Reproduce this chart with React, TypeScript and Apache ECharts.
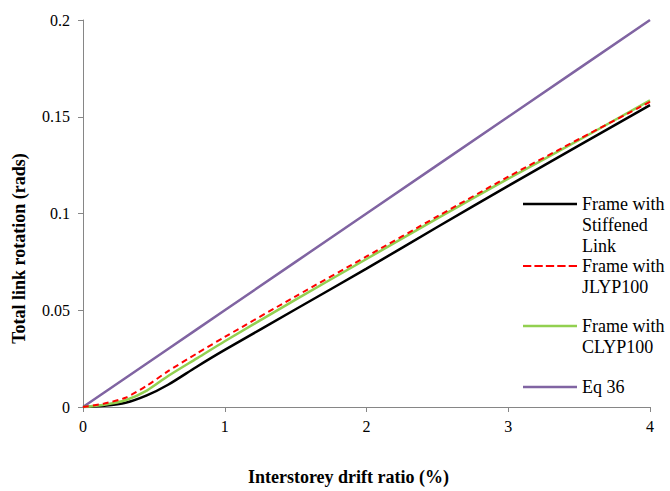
import React, { useEffect, useRef } from "react";
import * as echarts from "echarts";

const driftRatio = [0, 0.15, 0.3, 0.45, 0.6, 0.8, 1, 1.5, 2, 2.5, 3, 3.5, 4];
const stiffened = [0, 0.0007, 0.0022, 0.006, 0.0115, 0.0207, 0.0295, 0.0505, 0.0715, 0.093, 0.1143, 0.1352, 0.156];
const jlyp100 = [0, 0.0018, 0.0048, 0.011, 0.0185, 0.0275, 0.0362, 0.0572, 0.0778, 0.0985, 0.119, 0.1385, 0.1577];
const clyp100 = [0, 0.0012, 0.0035, 0.0085, 0.016, 0.025, 0.034, 0.0555, 0.0765, 0.0975, 0.118, 0.138, 0.1585];
const eq36 = [0, 0.0075, 0.015, 0.0225, 0.03, 0.04, 0.05, 0.075, 0.1, 0.125, 0.15, 0.175, 0.2];

const seriesNames = ["Frame with Stiffened Link", "Frame with JLYP100", "Frame with CLYP100", "Eq 36"];
const legendLabels = [
  ["Frame with", "Stiffened", "Link"],
  ["Frame with", "JLYP100"],
  ["Frame with", "CLYP100"],
  ["Eq 36"],
];

const FONT = "Liberation Serif";

export default function App() {
  const ref = useRef<HTMLDivElement>(null);
  useEffect(() => {
    if (!ref.current) return;
    const chart = echarts.init(ref.current, null, { renderer: "svg" });
    const pair = (ys: number[]) => driftRatio.map((x, i) => [x, ys[i]]);
    const lineH = 21;
    const legendItem = (i: number, iconY: number) => {
      const lines = legendLabels[i];
      const n = lines.length;
      const padded = Array(n - 1).fill("").concat(lines).join("\n");
      return {
        data: [seriesNames[i]],
        left: 523,
        top: iconY - ((2 * n - 1) * lineH) / 2,
        padding: 0,
        orient: "vertical",
        itemWidth: 54,
        itemHeight: 12,
        itemGap: 0,
        formatter: () => padded,
        icon: "path://M0,5 L54,5 L54,7.5 L0,7.5 Z",
        textStyle: {
          fontFamily: FONT,
          fontSize: 18,
          color: "#000",
          lineHeight: lineH,
        },
      };
    };
    chart.setOption({
      animation: false,
      grid: { left: 83, right: 20, top: 20, bottom: 80, containLabel: false },
      legend: [
        legendItem(0, 204),
        {
          ...legendItem(1, 266),
          icon: "path://M0,5 L8,5 L8,7 L0,7 Z M11,5 L19,5 L19,7 L11,7 Z M22,5 L30,5 L30,7 L22,7 Z M33,5 L41,5 L41,7 L33,7 Z M44,5 L52,5 L52,7 L44,7 Z",
        },
        legendItem(2, 326),
        legendItem(3, 387),
      ],
      xAxis: {
        type: "value",
        min: 0,
        max: 4,
        interval: 1,
        name: "Interstorey drift ratio (%)",
        nameLocation: "middle",
        nameGap: 61,
        nameTextStyle: {
          fontFamily: FONT,
          fontSize: 18,
          fontWeight: "bold",
          color: "#000",
          padding: [0, 36, 0, 0],
        },
        axisLine: { show: true, lineStyle: { color: "#868686", width: 1 } },
        axisTick: { show: true, length: 5, lineStyle: { color: "#868686" } },
        axisLabel: { fontFamily: FONT, fontSize: 16, color: "#000", margin: 11 },
        splitLine: { show: false },
      },
      yAxis: {
        type: "value",
        min: 0,
        max: 0.2,
        interval: 0.05,
        name: "Total link rotation (rads)",
        nameLocation: "middle",
        nameGap: 55,
        nameTextStyle: {
          fontFamily: FONT,
          fontSize: 18,
          fontWeight: "bold",
          color: "#000",
          padding: [0, 70, 0, 0],
        },
        axisLine: { show: true, lineStyle: { color: "#868686", width: 1 } },
        axisTick: { show: true, length: 5, lineStyle: { color: "#868686" } },
        axisLabel: { fontFamily: FONT, fontSize: 16, color: "#000", margin: 13 },
        splitLine: { show: false },
      },
      series: [
        {
          name: seriesNames[3],
          type: "line",
          data: pair(eq36),
          showSymbol: false,
          lineStyle: { color: "#8064a2", width: 2.5 },
          itemStyle: { color: "#8064a2" },
        },
        {
          name: seriesNames[0],
          type: "line",
          data: pair(stiffened),
          smooth: 0.25,
          showSymbol: false,
          lineStyle: { color: "#000000", width: 2.5 },
          itemStyle: { color: "#000000" },
        },
        {
          name: seriesNames[2],
          type: "line",
          data: pair(clyp100),
          smooth: 0.25,
          showSymbol: false,
          lineStyle: { color: "#92d050", width: 2.5 },
          itemStyle: { color: "#92d050" },
        },
        {
          name: seriesNames[1],
          type: "line",
          data: pair(jlyp100),
          smooth: 0.25,
          showSymbol: false,
          lineStyle: { color: "#ff0000", width: 2, type: [6, 4] },
          itemStyle: { color: "#ff0000" },
        },
      ],
    });
    return () => chart.dispose();
  }, []);
  return <div ref={ref} style={{ width: 670, height: 491, position: "absolute", left: 0, top: 0 }} />;
}
